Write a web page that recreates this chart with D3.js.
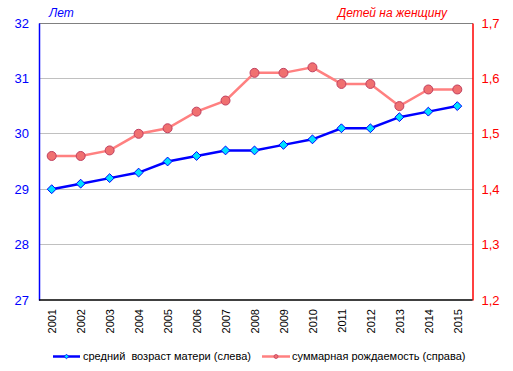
<!DOCTYPE html>
<html><head><meta charset="utf-8">
<script src="https://cdn.jsdelivr.net/npm/d3@7"></script>
<style>body{margin:0;background:#fff}svg{display:block;font-family:"Liberation Sans",Arial,sans-serif}</style>
</head><body>
<script>
const years = ["2001","2002","2003","2004","2005","2006","2007","2008","2009","2010","2011","2012","2013","2014","2015"];
const motherAge = [29.0,29.1,29.2,29.3,29.5,29.6,29.7,29.7,29.8,29.9,30.1,30.1,30.3,30.4,30.5];
const fertility = [1.46,1.46,1.47,1.50,1.51,1.54,1.56,1.61,1.61,1.62,1.59,1.59,1.55,1.58,1.58];
const leftTicks = [27,28,29,30,31,32];
const rightTicks = [1.2,1.3,1.4,1.5,1.6,1.7];
const leftTitle = "Лет";
const rightTitle = "Детей на женщину";
const seriesNames = ["средний  возраст матери (слева)","суммарная рождаемость (справа)"];

const W=513,H=371, L=39, R=472.5, T=23, B=300;
const svg=d3.select("body").append("svg").attr("width",W).attr("height",H);
const x=d3.scalePoint().domain(years).range([51.7,457.3]);
const yL=d3.scaleLinear().domain([27,32]).range([B,T]);
const yR=d3.scaleLinear().domain([1.2,1.7]).range([B,T]);

// gridlines
svg.append("g").selectAll("line").data(leftTicks.filter(d=>d>27&&d<32)).join("line")
 .attr("x1",L).attr("x2",R).attr("y1",d=>yL(d)).attr("y2",d=>yL(d))
 .attr("stroke","#c0c0c0").attr("stroke-width",1).attr("shape-rendering","crispEdges");
svg.append("line").attr("x1",L).attr("x2",R).attr("y1",yL(32)).attr("y2",yL(32))
 .attr("stroke","#808080").attr("stroke-width",1).attr("shape-rendering","crispEdges");

// left axis
const gl=svg.append("g").attr("transform",`translate(${L},0)`)
 .call(d3.axisLeft(yL).tickValues(leftTicks).tickSize(0).tickPadding(10).tickFormat(d3.format("d")));
gl.select(".domain").attr("stroke","#0000ff").attr("stroke-width",1.5);
gl.selectAll("text").attr("fill","#0000ff").attr("font-size",13).attr("font-family","Liberation Sans, Arial, sans-serif");

// right axis
const gr=svg.append("g").attr("transform",`translate(${R},0)`)
 .call(d3.axisRight(yR).tickValues(rightTicks).tickSize(0).tickPadding(9).tickFormat(d=>d3.format(".1f")(d).replace(".",",")));
gr.select(".domain").attr("stroke","#ff0000").attr("stroke-width",1.5);
gr.selectAll("text").attr("fill","#ff0000").attr("font-size",13).attr("font-family","Liberation Sans, Arial, sans-serif");

// bottom axis
const gb=svg.append("g").attr("transform",`translate(0,${B})`)
 .call(d3.axisBottom(x).tickSize(0));
gb.select(".domain").attr("d",`M${L},0H${R}`).attr("stroke","#000").attr("stroke-width",1.5);
gb.selectAll("text").attr("font-size",11).attr("fill","#000").attr("font-family","Liberation Sans, Arial, sans-serif")
 .attr("transform","rotate(-90)").attr("text-anchor","end").attr("x",-9).attr("y",0).attr("dy","0.35em");

// titles
svg.append("text").attr("x",49).attr("y",17).attr("font-size",12).attr("font-style","italic").attr("fill","#0000ff").text(leftTitle);
svg.append("text").attr("x",447).attr("y",17).attr("text-anchor","end").attr("font-size",12).attr("font-style","italic").attr("fill","#ff0000").text(rightTitle);

// red series
svg.append("path").datum(fertility).attr("fill","none").attr("stroke","#ff8080").attr("stroke-width",2.5)
 .attr("d",d3.line().x((d,i)=>x(years[i])).y(d=>yR(d)));
svg.append("g").selectAll("circle").data(fertility).join("circle")
 .attr("cx",(d,i)=>x(years[i])).attr("cy",d=>yR(d)).attr("r",4.5)
 .attr("fill","#f07070").attr("stroke","#c04060").attr("stroke-width",1);

// blue series
svg.append("path").datum(motherAge).attr("fill","none").attr("stroke","#0000ff").attr("stroke-width",2.5)
 .attr("d",d3.line().x((d,i)=>x(years[i])).y(d=>yL(d)));
svg.append("g").selectAll("path").data(motherAge).join("path")
 .attr("d",d3.symbol(d3.symbolDiamond2,50)).attr("transform",(d,i)=>`translate(${x(years[i])},${yL(d)})`)
 .attr("fill","#00e0ff").attr("stroke","#0000ff").attr("stroke-width",1);

// legend
const ly=356.5;
svg.append("line").attr("x1",53).attr("x2",80).attr("y1",ly).attr("y2",ly).attr("stroke","#0000ff").attr("stroke-width",2.5);
svg.append("path").attr("d",d3.symbol(d3.symbolDiamond2,14)).attr("transform",`translate(66.5,${ly})`).attr("fill","#00e0ff").attr("stroke","#0000ff").attr("stroke-width",0.8);
svg.append("text").attr("x",83).attr("y",ly).attr("dy","0.35em").attr("font-size",11).attr("fill","#000").attr("xml:space","preserve").text(seriesNames[0]);
svg.append("line").attr("x1",262).attr("x2",290).attr("y1",ly).attr("y2",ly).attr("stroke","#ff8080").attr("stroke-width",2.5);
svg.append("circle").attr("cx",276).attr("cy",ly).attr("r",2).attr("fill","#f07070").attr("stroke","#c04060").attr("stroke-width",0.8);
svg.append("text").attr("x",292).attr("y",ly).attr("dy","0.35em").attr("font-size",11).attr("fill","#000").text(seriesNames[1]);
</script>
</body></html>
